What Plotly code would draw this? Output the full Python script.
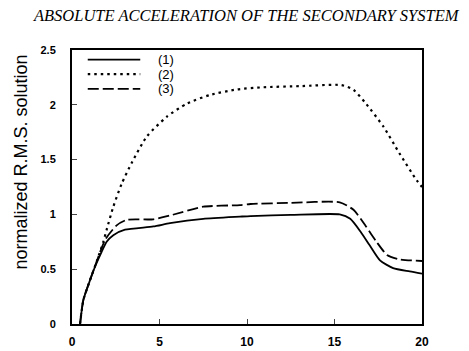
import plotly.graph_objects as go

# Curve (1) solid
x1 = [0.46, 0.65, 1.03, 1.31, 1.7, 1.98, 2.36, 3.03, 4.65, 5.6, 7.5, 9.6, 10.2, 12.5, 15.3, 15.9, 16.5, 17.0, 17.6, 18.35, 19.3, 20.0]
y1 = [0.0, 0.22, 0.40, 0.52, 0.66, 0.75, 0.81, 0.86, 0.89, 0.92, 0.96, 0.98, 0.985, 0.995, 1.0, 0.96, 0.84, 0.72, 0.58, 0.51, 0.48, 0.46]

# Curve (2) dotted
x2 = [0.46, 0.65, 1.03, 1.41, 1.79, 1.98, 2.36, 2.84, 3.41, 4.27, 5.41, 6.55, 7.89, 9.41, 10.93, 13.0, 15.4, 16.1, 16.8, 17.8, 18.7, 19.7, 20.0]
y2 = [0.0, 0.22, 0.40, 0.57, 0.75, 0.86, 1.07, 1.28, 1.47, 1.71, 1.89, 2.01, 2.09, 2.14, 2.16, 2.17, 2.18, 2.135, 2.01, 1.80, 1.56, 1.31, 1.25]

# Curve (3) dashed
x3 = [0.46, 0.65, 1.03, 1.41, 1.9, 2.55, 3.12, 4.65, 5.6, 7.5, 9.6, 10.2, 12.5, 15.3, 16.1, 16.8, 17.4, 18.0, 18.7, 20.0]
y3 = [0.0, 0.22, 0.40, 0.57, 0.77, 0.90, 0.95, 0.955, 0.99, 1.07, 1.085, 1.095, 1.105, 1.11, 1.04, 0.89, 0.75, 0.63, 0.59, 0.575]

names = ["(1)", "(2)", "(3)"]
dashes = ["solid", "2.5px,4px", "11px,4px"]
widths = [1.8, 2.2, 1.8]
xticks = [0, 5, 10, 15, 20]
yticks = [0, 0.5, 1, 1.5, 2, 2.5]
ytick_labels = ["0", "0.5", "1", "1.5", "2", "2.5"]

fig = go.Figure()
for xs, ys, nm, dash, w in zip([x1, x2, x3], [y1, y2, y3], names, dashes, widths):
    fig.add_trace(go.Scatter(x=xs, y=ys, name=nm, mode="lines", showlegend=False,
                             line=dict(color="black", width=w, dash=dash, shape="spline", smoothing=0.6)))

# Manual legend (paper coordinates)
leg_y = [0.965, 0.912, 0.858]
for nm, dash, w, ly in zip(names, dashes, widths, leg_y):
    fig.add_shape(type="line", xref="paper", yref="paper", x0=0.045, x1=0.195, y0=ly, y1=ly,
                  line=dict(color="black", width=w, dash=dash))
    fig.add_annotation(xref="paper", yref="paper", x=0.24, y=ly, text=nm, showarrow=False,
                       xanchor="left", yanchor="middle",
                       font=dict(family="Liberation Sans", size=13, color="black"))

# Y-axis title as annotation (positioned like reference)
fig.add_annotation(xref="paper", yref="paper", x=-0.145, y=0.59, text="normalized R.M.S. solution",
                   textangle=-90, showarrow=False, xanchor="center", yanchor="middle",
                   font=dict(family="Liberation Sans", size=18, color="black"))

fig.update_layout(
    width=469, height=351,
    margin=dict(l=72, r=47, t=50, b=27),
    paper_bgcolor="white", plot_bgcolor="white",
    title=dict(text="ABSOLUTE ACCELERATION OF THE SECONDARY SYSTEM",
               font=dict(family="Liberation Serif", size=16.5, color="black", style="italic"),
               x=0.525, xanchor="center", y=0.957, yanchor="middle"),
    showlegend=False,
    font=dict(family="Liberation Sans", color="black"),
)
fig.update_xaxes(range=[0, 20], tickvals=xticks, ticks="inside", ticklen=5, tickwidth=1,
                 showline=True, linewidth=2, linecolor="black", mirror=True, automargin=False,
                 showgrid=False, zeroline=False, ticklabelstandoff=6,
                 tickfont=dict(family="Liberation Sans", size=12, color="black", weight="bold"))
fig.update_yaxes(range=[0, 2.5], tickvals=yticks, ticktext=ytick_labels, ticks="inside", ticklen=5, tickwidth=1,
                 showline=True, linewidth=2, linecolor="black", mirror=True, automargin=False,
                 showgrid=False, zeroline=False, ticklabelstandoff=12,
                 tickfont=dict(family="Liberation Sans", size=11, color="black", weight="bold"))

fig.write_html("out.html")
